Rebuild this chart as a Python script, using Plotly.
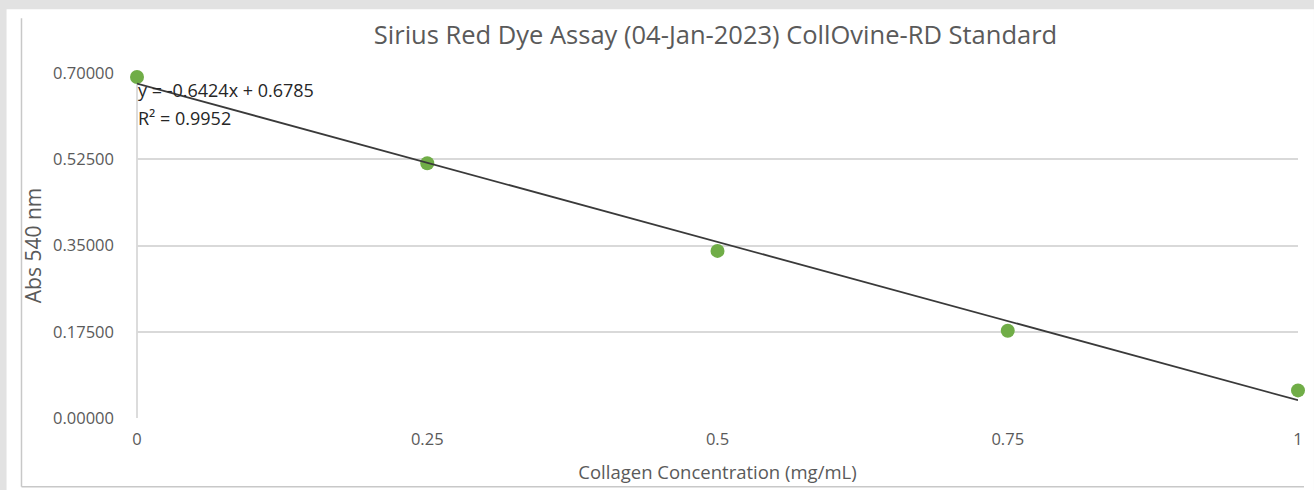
import plotly.graph_objects as go

# Standard curve readings
concentration = [0, 0.25, 0.5, 0.75, 1]
absorbance = [0.692, 0.517, 0.339, 0.177, 0.056]

# Linear trendline coefficients
slope = -0.6424
intercept = 0.6785
r_squared = 0.9952

y_ticks = [0, 0.175, 0.35, 0.525, 0.7]
x_ticks = [0, 0.25, 0.5, 0.75, 1]

W, H = 1314, 490
L, R, T, B = 137, 1303, 73, 419


def px(p):
    return (p - L) / (R - L)


def py(p):
    return (B - p) / (B - T)


fit_x = [concentration[0], concentration[-1]]
fit_y = [slope * x + intercept for x in fit_x]

fig = go.Figure()
fig.add_trace(go.Scatter(
    x=concentration, y=absorbance, mode="markers",
    marker=dict(color="#70ad47", size=14),
    cliponaxis=False, showlegend=False,
))
fig.add_trace(go.Scatter(
    x=fit_x, y=fit_y, mode="lines",
    line=dict(color="#3a3a3a", width=1.8),
    cliponaxis=False, showlegend=False,
))

grey = "#5a5a5a"
font_family = "Open Sans, sans-serif"

fig.update_layout(
    width=W, height=H,
    margin=dict(l=L, r=W - R, t=T, b=H - B),
    paper_bgcolor="#e2e2e2",
    plot_bgcolor="white",
    font=dict(family=font_family, color=grey),
    title=dict(
        text="Sirius Red Dye Assay (04-Jan-2023) CollOvine-RD Standard",
        x=px(718), xanchor="center", xref="paper",
        y=1 - 35 / H, yanchor="middle", yref="container",
        font=dict(size=25.5, color=grey, family=font_family),
    ),
    xaxis=dict(
        range=[0, 1], tickvals=x_ticks, ticktext=["0", "0.25", "0.5", "0.75", "1"],
        showgrid=False, zeroline=False, showline=False,
        ticks="", ticklabelstandoff=9,
        tickfont=dict(size=16.5, color=grey),
        title=dict(text="Collagen Concentration (mg/mL)", standoff=17,
                   font=dict(size=18.5, color=grey)),
    ),
    yaxis=dict(
        range=[0, 0.7], tickvals=y_ticks, tickformat=".5f",
        showgrid=True, gridcolor="#d9d9d9", gridwidth=1.5,
        zeroline=False, showline=False, ticks="", ticklabelstandoff=22,
        tickfont=dict(size=16.5, color=grey),
        title=dict(text="Abs 540 nm", standoff=5,
                   font=dict(size=21, color=grey)),
    ),
    shapes=[
        # white chart card over the grey page
        dict(type="rect", xref="paper", yref="paper", layer="below",
             x0=px(6), x1=px(W + 5), y0=py(9), y1=py(H + 5),
             fillcolor="white", line=dict(width=0)),
        # card frame
        dict(type="line", xref="paper", yref="paper",
             x0=px(21), x1=px(21), y0=py(18), y1=py(488),
             line=dict(color="#c8c8c8", width=1.5)),
        dict(type="line", xref="paper", yref="paper",
             x0=px(21), x1=px(1309), y0=py(488), y1=py(488),
             line=dict(color="#c8c8c8", width=1.5)),
        # vertical value axis line
        dict(type="line", xref="paper", yref="paper", layer="below",
             x0=0, x1=0, y0=0, y1=1,
             line=dict(color="#d0d0d0", width=1.5)),
    ],
    annotations=[
        dict(text=f"y = {slope}x + {intercept}", xref="paper", yref="paper",
             x=px(136), y=py(90), xanchor="left", yanchor="middle",
             showarrow=False, font=dict(size=18, color="#262626", family=font_family)),
        dict(text=f"R² = {r_squared}", xref="paper", yref="paper",
             x=px(136), y=py(118), xanchor="left", yanchor="middle",
             showarrow=False, font=dict(size=18, color="#262626", family=font_family)),
    ],
)

fig.write_html("out.html")
